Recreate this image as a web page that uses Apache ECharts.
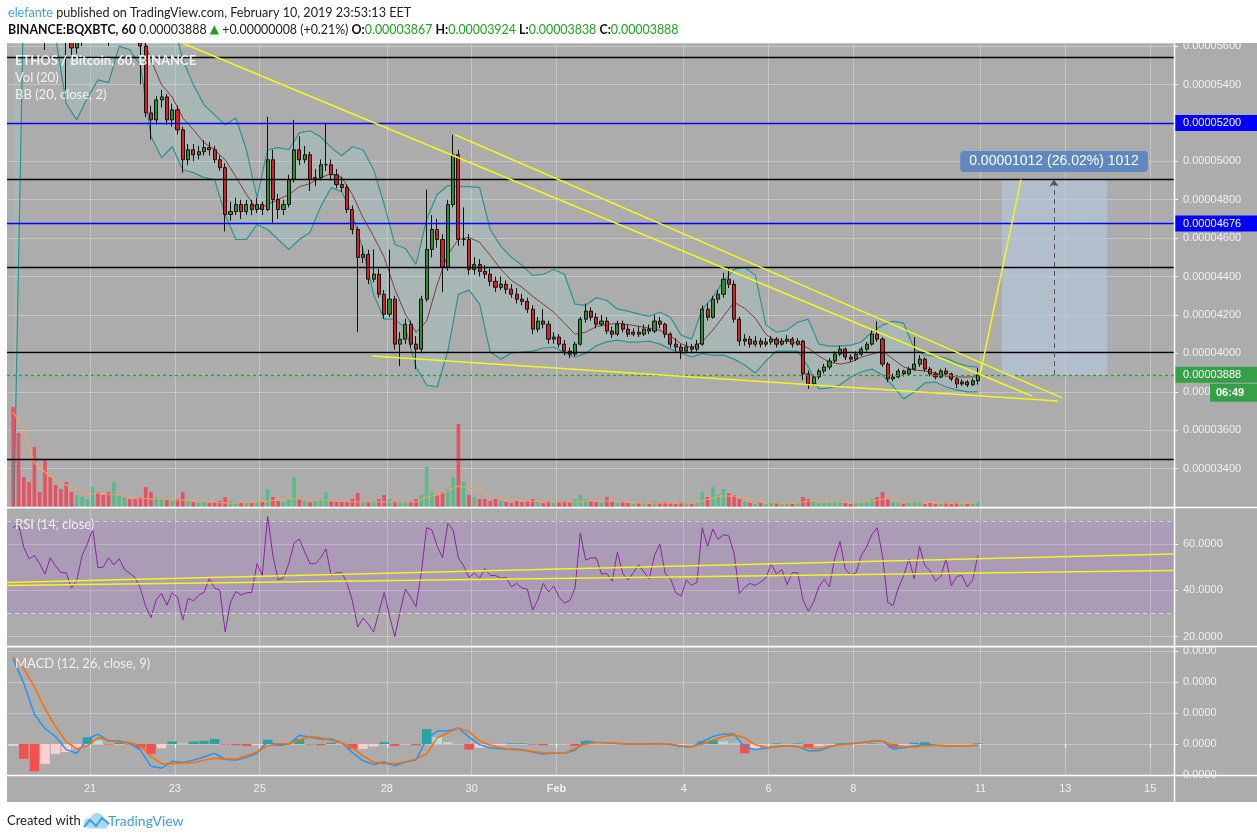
<!DOCTYPE html>
<html>
<head>
<meta charset="utf-8">
<script src="https://cdn.jsdelivr.net/npm/echarts@6/dist/echarts.min.js"></script>
<style>
  html, body { margin: 0; padding: 0; background: #fff; }
  #chart { width: 1257px; height: 839px; }
</style>
</head>
<body>
<div id="chart"></div>
<script>
// Time is in hours after 19 Jan 2019 00:00, prices are in satoshi (1e-8 BTC).
const START_HOUR = 4.5

const candleOpen = [
  7200, 6900, 6600, 6400, 6200, 6050, 5950, 5850, 5800, 5760,
  5700, 5640, 5590, 5620, 5660, 5700, 5720, 5700, 5680, 5650,
  5680, 5700, 5720, 5700, 5660, 5600, 5252, 5216, 5320, 5335,
  5216, 5268, 5164, 5008, 5060, 5034, 5050, 5071, 5060, 5008,
  4967, 4723, 4738, 4775, 4738, 4775, 4749, 4775, 4749, 5008,
  4801, 4749, 4775, 4905, 5060, 5008, 5034, 4905, 4915, 4982,
  4982, 4930, 4879, 4863, 4749, 4645, 4500, 4515, 4386, 4412,
  4308, 4204, 4282, 4048, 4074, 4152, 4048, 4022, 4282, 4541,
  4645, 4593, 4448, 4775, 5034, 4593, 4593, 4437, 4463, 4427,
  4412, 4375, 4344, 4360, 4334, 4308, 4282, 4271, 4230, 4126,
  4168, 4152, 4074, 4085, 4048, 4012, 3996, 4048, 4178, 4220,
  4188, 4152, 4168, 4116, 4100, 4152, 4126, 4100, 4110, 4100,
  4126, 4116, 4168, 4152, 4100, 4048, 4033, 4012, 4033, 4022,
  4048, 4230, 4188, 4282, 4308, 4386, 4360, 4178, 4064, 4074,
  4048, 4064, 4048, 4059, 4074, 4048, 4064, 4074, 4048, 4064,
  3893, 3841, 3877, 3908, 3929, 3960, 3996, 4022, 3981, 3970,
  3996, 4022, 4048, 4100, 4074, 3944, 3867, 3877, 3908, 3893,
  3918, 3944, 3970, 3918, 3893, 3877, 3908, 3893, 3867, 3841,
  3851, 3836, 3857
]
const candleHigh = [
  7350, 7000, 6700, 6450, 6300, 6120, 6000, 5900, 5880, 5800,
  5760, 5700, 5650, 5700, 5740, 5780, 5760, 5740, 5700, 5720,
  5750, 5780, 5750, 5720, 5700, 5620, 5290, 5340, 5372, 5350,
  5300, 5290, 5180, 5090, 5090, 5080, 5110, 5100, 5080, 5030,
  4990, 4790, 4810, 4800, 4800, 4800, 4810, 4790, 5232, 5060,
  4830, 4800, 4930, 5216, 5130, 5080, 5050, 4960, 5010, 5200,
  5010, 4960, 4920, 4880, 4770, 4660, 4560, 4540, 4541, 4440,
  4330, 4541, 4300, 4110, 4180, 4170, 4090, 4300, 4853, 4720,
  4700, 4620, 4800, 5138, 5060, 4760, 4620, 4500, 4490, 4460,
  4440, 4400, 4400, 4380, 4360, 4340, 4310, 4290, 4250, 4190,
  4230, 4170, 4110, 4100, 4070, 4030, 4060, 4190, 4260, 4240,
  4210, 4200, 4190, 4140, 4170, 4170, 4150, 4130, 4140, 4150,
  4150, 4200, 4190, 4160, 4110, 4080, 4050, 4060, 4050, 4070,
  4250, 4260, 4300, 4330, 4420, 4448, 4380, 4190, 4100, 4090,
  4090, 4080, 4080, 4090, 4085, 4080, 4095, 4085, 4080, 4070,
  3910, 3890, 3920, 3945, 3975, 4010, 4040, 4030, 3995, 4010,
  4035, 4060, 4120, 4167, 4085, 3955, 3895, 3920, 3915, 3930,
  4085, 3990, 3980, 3930, 3905, 3920, 3925, 3900, 3875, 3865,
  3860, 3870, 3924
]
const candleLow = [
  6800, 6500, 6300, 6100, 5980, 5900, 5580, 5700, 5700, 5640,
  5372, 5540, 5560, 5600, 5640, 5680, 5660, 5640, 5600, 5630,
  5660, 5680, 5660, 5620, 5400, 5230, 5112, 5190, 5280, 5190,
  5180, 5140, 4940, 4980, 5000, 5010, 5030, 5030, 4990, 4950,
  4635, 4690, 4720, 4700, 4720, 4720, 4730, 4720, 4740, 4681,
  4700, 4720, 4760, 4890, 4980, 4990, 4845, 4870, 4900, 4950,
  4900, 4860, 4840, 4730, 4620, 4110, 4470, 4360, 4370, 4290,
  4180, 4190, 4020, 3934, 4050, 4030, 3918, 4000, 4270, 4500,
  4550, 4318, 4430, 4760, 4560, 4560, 4410, 4410, 4400, 4390,
  4350, 4320, 4330, 4310, 4290, 4260, 4250, 4210, 4100, 4110,
  4130, 4050, 4050, 4030, 3990, 3975, 3985, 4040, 4160, 4170,
  4130, 4140, 4100, 4080, 4090, 4110, 4085, 4090, 4085, 4090,
  4100, 4105, 4130, 4080, 4030, 4010, 3970, 4000, 4000, 4010,
  4040, 4170, 4180, 4260, 4290, 4340, 4160, 4040, 4040, 4030,
  4035, 4030, 4035, 4045, 4030, 4040, 4050, 4030, 4040, 3860,
  3815, 3830, 3865, 3895, 3915, 3950, 3985, 3965, 3955, 3960,
  3985, 4010, 4040, 4060, 3930, 3850, 3855, 3870, 3880, 3885,
  3910, 3930, 3905, 3880, 3865, 3870, 3880, 3855, 3820, 3830,
  3825, 3830, 3838
]
const candleClose = [
  6900, 6600, 6400, 6200, 6050, 5950, 5850, 5800, 5760, 5700,
  5640, 5590, 5620, 5660, 5700, 5720, 5700, 5680, 5650, 5680,
  5700, 5720, 5700, 5660, 5600, 5252, 5216, 5320, 5335, 5216,
  5268, 5164, 5008, 5060, 5034, 5050, 5071, 5060, 5008, 4967,
  4723, 4738, 4775, 4738, 4775, 4749, 4775, 4749, 5008, 4801,
  4749, 4775, 4905, 5060, 5008, 5034, 4905, 4915, 4982, 4982,
  4930, 4879, 4863, 4749, 4645, 4500, 4515, 4386, 4412, 4308,
  4204, 4282, 4048, 4074, 4152, 4048, 4022, 4282, 4541, 4645,
  4593, 4448, 4775, 5034, 4593, 4593, 4437, 4463, 4427, 4412,
  4375, 4344, 4360, 4334, 4308, 4282, 4271, 4230, 4126, 4168,
  4152, 4074, 4085, 4048, 4012, 3996, 4048, 4178, 4220, 4188,
  4152, 4168, 4116, 4100, 4152, 4126, 4100, 4110, 4100, 4126,
  4116, 4168, 4152, 4100, 4048, 4033, 4012, 4033, 4022, 4048,
  4230, 4188, 4282, 4308, 4386, 4360, 4178, 4064, 4074, 4048,
  4064, 4048, 4059, 4074, 4048, 4064, 4074, 4048, 4064, 3893,
  3841, 3877, 3908, 3929, 3960, 3996, 4022, 3981, 3970, 3996,
  4022, 4048, 4100, 4074, 3944, 3867, 3877, 3908, 3893, 3918,
  3944, 3970, 3918, 3893, 3877, 3908, 3893, 3867, 3841, 3851,
  3836, 3857, 3888
]
// volume, arbitrary units
const volume = [
  100, 74, 30, 25, 60, 15, 48, 30, 22, 18,
  25, 15, 12, 10, 8, 20, 15, 12, 15, 25,
  12, 10, 8, 8, 10, 20, 15, 10, 8, 8,
  6, 8, 15, 6, 5, 4, 5, 4, 5, 6,
  10, 6, 4, 5, 4, 4, 5, 6, 18, 10,
  6, 5, 8, 30, 8, 6, 5, 6, 8, 15,
  6, 5, 5, 6, 8, 14, 6, 5, 6, 8,
  12, 8, 6, 6, 5, 6, 8, 12, 40, 15,
  12, 15, 18, 30, 83, 25, 12, 10, 8, 8,
  6, 8, 6, 5, 4, 6, 5, 6, 8, 5,
  4, 6, 4, 5, 6, 5, 8, 12, 8, 6,
  5, 4, 10, 5, 4, 5, 4, 3, 4, 5,
  3, 6, 4, 5, 4, 3, 5, 4, 3, 5,
  15, 10, 20, 12, 18, 14, 12, 8, 5, 4,
  3, 4, 3, 5, 4, 3, 4, 3, 4, 10,
  8, 5, 4, 4, 5, 6, 5, 4, 3, 4,
  5, 6, 8, 10, 15, 8, 5, 4, 3, 4,
  6, 5, 3, 4, 3, 3, 4, 3, 4, 3,
  3, 4, 5
]
const rsi = [
  67, 68.5, 58.5, 53.6, 55, 51.5, 47, 54, 50.6, 47.6,
  47.6, 41, 44.3, 55, 60, 66.4, 49.8, 50, 54, 51,
  53.6, 49, 47.4, 45.5, 40.9, 33, 28.3, 36, 38.7, 33.6,
  39, 37, 27.2, 36.5, 35.5, 37.9, 39.1, 45.1, 41, 40,
  22.1, 34.9, 39.5, 38, 38.9, 39.1, 51.5, 46.4, 71.9, 55,
  44.5, 45.5, 51.5, 60.4, 62.1, 56.5, 51.5, 51.5, 54, 57.9,
  46.4, 47.6, 47.6, 43, 35.5, 24.2, 28, 25.5, 22, 30.6,
  39, 29, 20, 31, 40.5, 37, 33, 47.6, 67, 66,
  59, 54, 68.9, 66, 54, 50.5, 45.5, 47.5, 45.3, 49.4,
  46.4, 46.4, 45.2, 45.5, 41.5, 43, 41, 40.5, 31.5, 36,
  43, 39.3, 41.8, 37, 34.5, 35.6, 41, 64.7, 53, 54,
  54, 47, 47.3, 44, 56.5, 47.2, 44.5, 47.6, 51, 48,
  45, 55, 60, 47.3, 45.1, 39, 37.5, 44.5, 42.1, 43.5,
  67, 59, 66.4, 62, 64, 63.5, 56, 38.7, 41.3, 43,
  42.1, 43.5, 45.3, 51.5, 47, 49, 42.5, 47.6, 47.6, 36,
  31, 34.9, 41.5, 44.8, 41.5, 54, 61, 49, 46.8, 47.5,
  55, 58.7, 64, 67, 55, 34.8, 33.5, 41, 46.4, 53.6,
  45, 59, 50.6, 48.5, 44, 46, 53.6, 42, 46, 46.4,
  41.5, 44.3, 55
]

// sampled every 6 hours
const bbUpper = [
  9000, 8000, 7500, 7000, 6600, 6300, 6200, 6100, 6000, 5950,
  5900, 5900, 5950, 6000, 5900, 5750, 5527, 5398, 5294, 5242,
  5190, 5226, 5060, 4811, 5060, 5071, 5060, 5148, 5159, 5128,
  5071, 5029, 5076, 5060, 4956, 4775, 4567, 4546, 4463, 4697,
  4827, 4874, 4868, 4868, 4863, 4645, 4557, 4500, 4458, 4406,
  4412, 4437, 4412, 4256, 4250, 4290, 4275, 4230, 4220, 4204,
  4193, 4214, 4188, 4095, 4074, 4230, 4292, 4375, 4437, 4448,
  4406, 4147, 4110, 4121, 4162, 4178, 4048, 4038, 4038, 4043,
  4059, 4110, 4147, 4167, 4157, 4022, 3991, 3986, 3975, 3949,
  3934, 3929
]
const bbMid = [
  7300, 6900, 6500, 6200, 6000, 5850, 5780, 5740, 5720, 5700,
  5700, 5700, 5680, 5527, 5398, 5335, 5226, 5164, 5097, 5060,
  5008, 4920, 4827, 4749, 4775, 4801, 4827, 4868, 4884, 4915,
  4936, 4915, 4827, 4707, 4609, 4500, 4334, 4204, 4110, 4167,
  4360, 4515, 4593, 4604, 4578, 4510, 4438, 4380, 4344, 4297,
  4256, 4214, 4157, 4100, 4110, 4140, 4150, 4157, 4150, 4141,
  4131, 4120, 4090, 4050, 4030, 4060, 4121, 4193, 4266, 4235,
  4183, 4100, 4060, 4064, 4053, 4027, 3986, 3954, 3944, 3954,
  3980, 3996, 4012, 3970, 3929, 3913, 3908, 3898, 3882, 3877,
  3877, 3877
]
const bbLower = [
  3000, 5900, 5800, 5700, 5650, 5300, 5216, 5330, 5424, 5410,
  5600, 5580, 5500, 5130, 5019, 5076, 4956, 4941, 4915, 4905,
  4723, 4593, 4593, 4671, 4645, 4593, 4541, 4593, 4630, 4764,
  4863, 4842, 4723, 4541, 4308, 4178, 4178, 4130, 3929, 3835,
  3825, 4012, 4308, 4329, 4256, 4007, 3970, 4002, 4007, 4012,
  4028, 4033, 4002, 3981, 4000, 4040, 4060, 4069, 4059, 4059,
  4064, 4048, 4022, 4002, 3981, 4000, 3990, 3991, 3970, 3939,
  3898, 3960, 4012, 4012, 4012, 3930, 3815, 3820, 3836, 3877,
  3903, 3918, 3887, 3830, 3763, 3799, 3846, 3851, 3825, 3810,
  3799, 3799
]
const volumeMa = [
  95, 78, 44, 35, 27, 22, 18, 13, 14, 13,
  12, 9, 9, 8, 8, 7, 7, 6, 6, 5,
  4, 4, 5, 5, 6, 7, 8, 8, 7, 7,
  6, 6, 5, 5, 5, 5, 5, 5, 5, 10,
  12, 16, 21, 19, 17, 10, 8, 7, 6, 6,
  5, 5, 5, 5, 6, 6, 6, 5, 5, 4,
  4, 4, 4, 4, 4, 6, 9, 11, 11, 9,
  7, 5, 4, 4, 4, 6, 6, 5, 5, 5,
  5, 6, 8, 8, 6, 5, 5, 4, 4, 4,
  4, 4
]
// MACD in 1e-8 BTC
const macdLine = [
  137, 98, 48, 25, 12, -9, -15, 8, 16, 5,
  5, 1, -10, -36, -39, -28, -30, -26, -21, -15,
  -25, -26, -22, -15, 4, -2, 0, 14, 11, 8,
  8, 2, -14, -27, -33, -29, -35, -29, -26, 8,
  21, 21, 26, 11, -1, -6, -8, -8, -9, -13,
  -16, -15, -15, -10, 5, 3, 2, 1, 0, 0,
  0, 1, -1, -4, -5, 4, 12, 16, 16, -5,
  -9, -7, -4, -3, -4, -11, -11, -5, 0, 1,
  2, 5, 5, -8, -6, -3, 0, -2, -3, -3,
  -3, -2
]
const macdSignal = [
  140, 122, 92, 57, 28, 4, -8, -3, 10, 6,
  3, 2, -3, -20, -32, -32, -31, -30, -26, -23,
  -24, -24, -19, -13, -3, 1, 0, 6, 12, 10,
  6, 2, -6, -19, -29, -32, -32, -29, -24, -16,
  10, 18, 26, 20, 5, -2, -6, -9, -10, -12,
  -14, -15, -15, -7, 0, 2, 2, 1, 0, 0,
  0, 0, 0, -3, -5, 0, 6, 12, 15, 10,
  -1, -6, -5, -3, -5, -6, -8, -4, -1, 0,
  2, 4, 5, -2, -4, -5, -3, -2, -3, -3,
  -3, -3
]

// x axis: day ticks (hours after 19 Jan 00:00) and their labels
const dayTicks = [48, 96, 144, 216, 264, 312, 384, 432, 480, 552, 600, 648]
const dayLabels = ['21', '23', '25', '28', '30', 'Feb', '4', '6', '8', '11', '13', '15']

// drawings
const blackLevels = [5543, 4905, 4448, 4007, 3451]
const blueLevels = [5200, 4676]
const lastPrice = 3888
const priceTrendLines = [
  [[100.1, 5616], [581.1, 3778]],
  [[254.6, 5138], [598.1, 3768]],
  [[207.6, 3986], [595.8, 3752]],
  [[551.7, 3887], [574.9, 4905]]
]
const rsiTrendLines = [
  [[1.0, 43.4], [661, 55.7]],
  [[1.0, 42.1], [661, 48.5]]
]
const measureFrom = 564.1
const measureTo = 623.6
const measureArrow = 593.6
const measureLow = 3887
const measureHigh = 4905

const X_MIN = 1.0
const X_MAX = 661.5
const FONT = 'Liberation Sans'
const TEAL = '#2a9393'
const YELLOW = '#f5f51e'
const LABEL = '#f0f0f0'
const GRIDLINE = 'rgba(255,255,255,0.3)'

const candleHours = candleClose.map((_, i) => START_HOUR + 3 * i)
const sixHours = bbMid.map((_, k) => START_HOUR + 6 * k)
const macdHist = macdLine.map((m, k) => m - macdSignal[k])
const fmtPrice = v => (v / 1e8).toFixed(8)

function dayAxis(gridIndex, withLabels) {
  return {
    type: 'value',
    gridIndex: gridIndex,
    min: X_MIN,
    max: X_MAX,
    axisLine: { show: false },
    axisTick: { show: withLabels, customValues: dayTicks, length: 4, lineStyle: { color: '#fff' } },
    axisLabel: {
      show: withLabels,
      customValues: dayTicks,
      color: LABEL,
      fontSize: 11,
      fontFamily: FONT,
      margin: 8,
      formatter: v => {
        const s = dayLabels[dayTicks.indexOf(v)]
        return s === 'Feb' ? '{b|Feb}' : s
      },
      rich: { b: { fontWeight: 'bold', color: LABEL, fontSize: 11, fontFamily: FONT } }
    },
    splitLine: { show: true, lineStyle: { color: GRIDLINE, width: 1 } }
  }
}

function rightAxis(gridIndex, extra) {
  return Object.assign({
    type: 'value',
    gridIndex: gridIndex,
    position: 'right',
    axisLine: { show: false },
    axisTick: { show: true, length: 4, lineStyle: { color: '#fff' } },
    axisLabel: { color: LABEL, fontSize: 11, fontFamily: FONT, margin: 9, showMinLabel: false, showMaxLabel: false },
    splitLine: { show: true, lineStyle: { color: GRIDLINE, width: 1 } }
  }, extra)
}

function boxLabel(bg, v) {
  return {
    show: true,
    position: 'end',
    distance: 0,
    formatter: fmtPrice(v),
    backgroundColor: bg,
    color: '#fff',
    fontSize: 11,
    fontFamily: FONT,
    padding: [3, 16, 2, 9]
  }
}

const chart = echarts.init(document.getElementById('chart'))

const levelLines = blackLevels.map(v => ({ yAxis: v, lineStyle: { color: '#000', width: 1.3, type: 'solid' }, label: { show: false } }))
  .concat(blueLevels.map(v => ({ yAxis: v, lineStyle: { color: '#0000ff', width: 1.3, type: 'solid' }, label: boxLabel('#0000ff', v) })))
  .concat([
    { yAxis: lastPrice, lineStyle: { color: '#12b012', width: 1.3, type: [3, 3], opacity: 1 }, label: boxLabel('#35a048', lastPrice) },
    [
      { coord: [measureArrow, measureLow], symbol: 'none', lineStyle: { color: '#555', width: 1, type: [5, 4] }, label: { show: false } },
      { coord: [measureArrow, measureHigh], symbol: 'arrow', symbolSize: 7, lineStyle: { color: '#555', width: 1, type: [5, 4] } }
    ]
  ])

const series = [
  {
    // filled band between the Bollinger lines, clipped to the price pane
    name: 'BB band', type: 'custom', xAxisIndex: 0, yAxisIndex: 0, z: 1, silent: true,
    data: sixHours.map((t, k) => [t, bbUpper[k], bbLower[k]]),
    encode: { x: 0, y: [1, 2] },
    renderItem: (params, api) => {
      if (params.dataIndex !== 0) return null
      const top = sixHours.map((t, k) => api.coord([t, bbUpper[k]]))
      const bottom = sixHours.map((t, k) => api.coord([t, bbLower[k]])).reverse()
      const cs = params.coordSys
      return {
        type: 'group',
        clipPath: { type: 'rect', shape: { x: cs.x, y: cs.y, width: cs.width, height: cs.height } },
        children: [{ type: 'polygon', shape: { points: top.concat(bottom) }, style: { fill: 'rgba(160,210,210,0.25)' } }]
      }
    }
  },
  {
    name: 'BB upper', type: 'line', xAxisIndex: 0, yAxisIndex: 0,
    data: sixHours.map((t, k) => [t, bbUpper[k]]),
    symbol: 'none', lineStyle: { color: TEAL, width: 1.2 }, z: 2, silent: true
  },
  {
    name: 'BB lower', type: 'line', xAxisIndex: 0, yAxisIndex: 0,
    data: sixHours.map((t, k) => [t, bbLower[k]]),
    symbol: 'none', lineStyle: { color: TEAL, width: 1.2 }, z: 2, silent: true
  },
  {
    name: 'BB basis', type: 'line', xAxisIndex: 0, yAxisIndex: 0,
    data: sixHours.map((t, k) => [t, bbMid[k]]),
    symbol: 'none', lineStyle: { color: '#8a3838', width: 1 }, z: 2, silent: true
  },
  {
    name: 'Volume', type: 'bar', xAxisIndex: 1, yAxisIndex: 1,
    data: candleHours.map((t, i) => [t, volume[i]]),
    barWidth: 3.6, z: 1, silent: true,
    itemStyle: { color: p => candleClose[p.dataIndex] >= candleOpen[p.dataIndex] ? '#58bc8a' : '#ea5060' }
  },
  {
    name: 'Volume MA', type: 'line', xAxisIndex: 1, yAxisIndex: 1,
    data: sixHours.map((t, k) => [t, volumeMa[k]]),
    symbol: 'none', lineStyle: { color: '#f4a25c', width: 1.2 }, z: 2, silent: true
  },
  {
    name: 'BQXBTC', type: 'candlestick', xAxisIndex: 0, yAxisIndex: 0,
    data: candleHours.map((t, i) => [t, candleOpen[i], candleClose[i], candleLow[i], candleHigh[i]]),
    barWidth: 3.6, clip: true, z: 3,
    itemStyle: { color: '#2f8f2f', color0: '#dc1f1f', borderColor: '#111', borderColor0: '#111', borderWidth: 1 },
    markLine: { silent: true, symbol: ['none', 'none'], data: levelLines },
    markArea: {
      silent: true,
      itemStyle: { color: 'rgba(185,208,238,0.5)' },
      data: [[{ coord: [measureFrom, measureHigh] }, { coord: [measureTo, measureLow] }]]
    },
    markPoint: {
      silent: true,
      symbol: 'rect', symbolSize: 1, itemStyle: { color: 'rgba(0,0,0,0)' },
      data: [{
        coord: [measureArrow, measureHigh],
        label: {
          show: true, offset: [0, -18], formatter: '0.00001012 (26.02%) 1012',
          backgroundColor: '#5f88c0', borderRadius: 4, padding: [4, 9, 3, 9],
          color: '#fff', fontSize: 14, fontFamily: FONT
        }
      }]
    }
  }
].concat(priceTrendLines.map((pts, n) => ({
  name: 'trend ' + n, type: 'line', xAxisIndex: 0, yAxisIndex: 0,
  data: pts, symbol: 'none', lineStyle: { color: YELLOW, width: 1.5 }, z: 6, silent: true
}))).concat([
  {
    name: 'RSI', type: 'line', xAxisIndex: 2, yAxisIndex: 2,
    data: candleHours.map((t, i) => [t, rsi[i]]),
    symbol: 'none', lineStyle: { color: '#8e22a8', width: 1 }, z: 3, silent: true,
    markArea: { silent: true, itemStyle: { color: 'rgba(153,21,255,0.1)' }, data: [[{ yAxis: 70 }, { yAxis: 30 }]] },
    markLine: {
      silent: true, symbol: ['none', 'none'], label: { show: false },
      lineStyle: { color: 'rgba(225,225,225,0.8)', width: 1, type: [4, 4] },
      data: [{ yAxis: 70 }, { yAxis: 30 }]
    }
  }
]).concat(rsiTrendLines.map((pts, n) => ({
  name: 'rsi trend ' + n, type: 'line', xAxisIndex: 2, yAxisIndex: 2,
  data: pts, symbol: 'none', lineStyle: { color: YELLOW, width: 1.5 }, z: 4, silent: true
}))).concat([
  {
    name: 'Histogram', type: 'bar', xAxisIndex: 3, yAxisIndex: 3,
    data: sixHours.map((t, k) => [t, macdHist[k]]),
    barWidth: 9.5, z: 2, silent: true,
    itemStyle: {
      color: p => {
        const k = p.dataIndex
        const h = macdHist[k]
        const prev = k > 0 ? macdHist[k - 1] : h
        if (h >= 0) return h >= prev ? '#26a69a' : '#b2dfdb'
        return h < prev ? '#ef5350' : '#ffcdd2'
      }
    }
  },
  {
    name: 'MACD', type: 'line', xAxisIndex: 3, yAxisIndex: 3,
    data: sixHours.map((t, k) => [t, macdLine[k]]),
    symbol: 'none', lineStyle: { color: '#2196f3', width: 1.5 }, z: 3, silent: true
  },
  {
    name: 'Signal', type: 'line', xAxisIndex: 3, yAxisIndex: 3,
    data: sixHours.map((t, k) => [t, macdSignal[k]]),
    symbol: 'none', lineStyle: { color: '#ff6d00', width: 1.5 }, z: 3, silent: true
  }
])

function paneText(id, x, y, text, bold) {
  return {
    id: id, type: 'text', x: x, y: y, z: 50,
    style: { text: text, fill: LABEL, font: (bold ? 'bold ' : '') + '13px Lato', verticalAlign: 'middle' }
  }
}
function sepLine(id, x1, y1, x2, y2) {
  return { id: id, type: 'line', z: 40, shape: { x1: x1, y1: y1, x2: x2, y2: y2 }, style: { stroke: '#fff', lineWidth: 1.5 } }
}

const graphic = [
  { id: 'bg', type: 'rect', z: -10, shape: { x: 7, y: 43, width: 1250, height: 759 }, style: { fill: '#acacac' } },
  { id: 'head', type: 'rect', z: 60, shape: { x: 0, y: 0, width: 1257, height: 43 }, style: { fill: '#fff' } },
  {
    id: 'head1', type: 'text', x: 8, y: 13, z: 61,
    style: {
      text: '{u|elefante}{t| published on TradingView.com, February 10, 2019 23:53:13 EET}',
      font: '12.6px Lato', verticalAlign: 'middle', fill: '#222',
      rich: { u: { fill: '#45a3dc', font: '12.6px Lato' }, t: { fill: '#222', font: '12.6px Lato' } }
    }
  },
  {
    id: 'head2', type: 'text', x: 8, y: 30, z: 61,
    style: {
      text: '{b|BINANCE:BQXBTC, 60} {n|0.00003888} {g|▲}{n| +0.00000008 (+0.21%)} {b|O:}{v|0.00003867} {b|H:}{v|0.00003924} {b|L:}{v|0.00003838} {b|C:}{v|0.00003888}',
      font: '12.4px Lato', verticalAlign: 'middle', fill: '#222',
      rich: {
        b: { fill: '#111', font: 'bold 12.4px Lato' },
        n: { fill: '#222', font: '12.4px Lato' },
        g: { fill: '#1fa31f', font: '12px DejaVu Sans' },
        v: { fill: '#1aa51a', font: '12.4px Lato' }
      }
    }
  },
  paneText('t-main', 15, 61, 'ETHOS / Bitcoin, 60, BINANCE', true),
  paneText('t-vol', 15, 78, 'Vol (20)', false),
  paneText('t-bb', 15, 95, 'BB (20, close, 2)', false),
  paneText('t-rsi', 15, 525, 'RSI (14, close)', false),
  paneText('t-macd', 15, 664, 'MACD (12, 26, close, 9)', false),
  sepLine('s1', 7, 507.5, 1257, 507.5),
  sepLine('s2', 7, 646.5, 1257, 646.5),
  sepLine('s3', 7, 775.5, 1257, 775.5),
  sepLine('s4', 1174.5, 43, 1174.5, 802),
  {
    id: 'foot1', type: 'text', x: 7, y: 821, z: 61,
    style: { text: 'Created with', fill: '#222', font: '13px Lato', verticalAlign: 'middle' }
  },
  { id: 'logo-c1', type: 'circle', z: 61, shape: { cx: 89, cy: 823, r: 5 }, style: { fill: '#a9d8f2' } },
  { id: 'logo-c2', type: 'circle', z: 61, shape: { cx: 97, cy: 820, r: 7 }, style: { fill: '#a9d8f2' } },
  { id: 'logo-c3', type: 'circle', z: 61, shape: { cx: 104, cy: 824, r: 4.5 }, style: { fill: '#a9d8f2' } },
  { id: 'logo-base', type: 'rect', z: 61, shape: { x: 89, y: 823, width: 15, height: 5.5 }, style: { fill: '#a9d8f2' } },
  {
    id: 'logo-wave', type: 'polyline', z: 62,
    shape: { points: [[84, 827], [90, 820], [96, 826], [102, 818], [109, 824]] },
    style: { stroke: '#3aa1db', lineWidth: 2, fill: null }
  },
  {
    id: 'foot2', type: 'text', x: 108, y: 821, z: 61,
    style: { text: 'TradingView', fill: '#3aa1db', font: '14px Lato', verticalAlign: 'middle' }
  }
]

chart.setOption({
  animation: false,
  backgroundColor: '#fff',
  textStyle: { fontFamily: FONT },
  grid: [
    { left: 7, width: 1167, top: 43, height: 464 },
    { left: 7, width: 1167, top: 380, height: 127 },
    { left: 7, width: 1167, top: 508, height: 138 },
    { left: 7, width: 1167, top: 647, height: 128 }
  ],
  xAxis: [
    dayAxis(0, false),
    Object.assign(dayAxis(1, false), { show: false }),
    dayAxis(2, false),
    dayAxis(3, true)
  ],
  yAxis: [
    rightAxis(0, { min: 3200, max: 5616, interval: 200, axisLabel: { color: LABEL, fontSize: 11, fontFamily: FONT, margin: 9, showMinLabel: false, showMaxLabel: false, formatter: fmtPrice } }),
    { type: 'value', gridIndex: 1, min: 0, max: 127, show: false },
    rightAxis(2, { min: 16, max: 75.5, splitNumber: 3, axisLabel: { color: LABEL, fontSize: 11, fontFamily: FONT, margin: 9, showMinLabel: false, showMaxLabel: false, formatter: v => v.toFixed(4) } }),
    rightAxis(3, { min: -50, max: 156.5, interval: 50, axisLabel: { color: LABEL, fontSize: 11, fontFamily: FONT, margin: 9, showMinLabel: true, showMaxLabel: false, formatter: v => (Math.abs(v) / 1e8).toFixed(4) } })
  ],
  series: series,
  graphic: graphic
})

// countdown box under the last price label
const lastY = chart.convertToPixel({ yAxisIndex: 0 }, lastPrice)
chart.setOption({
  graphic: [
    { id: 'cd-box', type: 'rect', z: 45, shape: { x: 1210, y: lastY + 9, width: 47, height: 18 }, style: { fill: '#35a048' } },
    { id: 'cd-text', type: 'text', z: 46, x: 1216, y: lastY + 18, style: { text: '06:49', fill: '#fff', font: 'bold 11px Liberation Sans', verticalAlign: 'middle' } }
  ]
})

window.addEventListener('resize', () => {
  chart.resize()
})
</script>
</body>
</html>
